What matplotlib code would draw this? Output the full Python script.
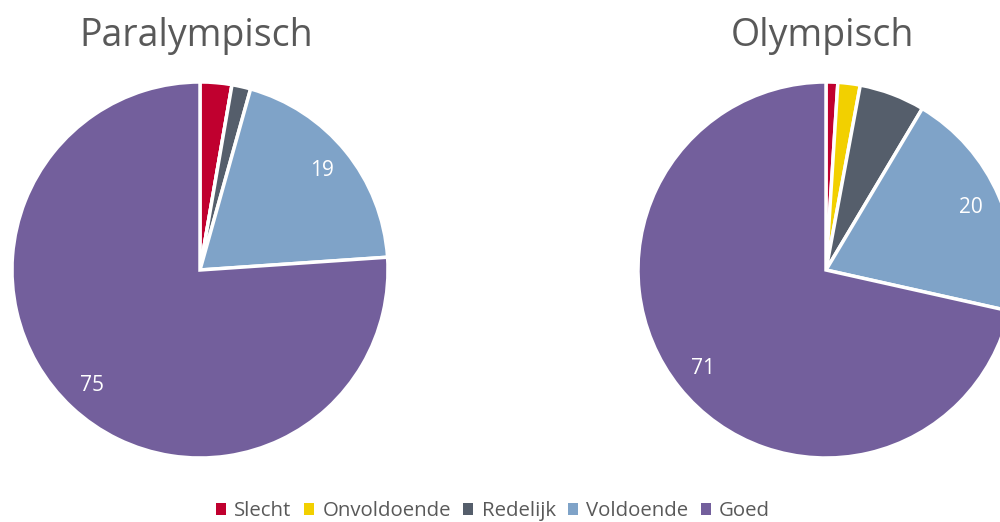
import matplotlib.pyplot as plt
from matplotlib.patches import Patch

plt.rcParams['font.family'] = ['Open Sans', 'DejaVu Sans']

categories = ['Slecht', 'Onvoldoende', 'Redelijk', 'Voldoende', 'Goed']
colors = ['#C0002F', '#F2D000', '#555E6B', '#7FA3C8', '#735F9C']

para_values = [2.7, 0.0, 1.6, 19.4, 75.4]
olymp_values = [1.0, 1.9, 5.6, 19.8, 71.0]

titles = ['Paralympisch', 'Olympisch']

W, H = 1000, 522
fig = plt.figure(figsize=(W / 100, H / 100), dpi=100)


def draw_pie(ax, values):
    total = sum(values)

    def fmt(pct):
        v = pct * total / 100.0
        return '%d' % round(v) if v >= 10 else ''

    wedges, texts, autotexts = ax.pie(
        values, colors=colors, startangle=90, counterclock=False,
        autopct=fmt, pctdistance=0.84,
        wedgeprops=dict(edgecolor='white', linewidth=2.5),
        textprops=dict(color='white', fontsize=15))
    ax.set_aspect('equal')
    ax.set_xlim(-1.0, 1.0)
    ax.set_ylim(-1.0, 1.0)


# pie axes placed by pixel box (center x, center y, radius)
boxes = [(200, 270, 188), (826, 270, 188)]
for (cx, cy, r), vals, title in zip(boxes, [para_values, olymp_values], titles):
    ax = fig.add_axes([(cx - r) / W, (H - cy - r) / H, 2 * r / W, 2 * r / H])
    draw_pie(ax, vals)
    ax.axis('off')
    fig.text((cx - 4) / W, 1 - 36 / H, title, ha='center', va='center',
             fontsize=27, color='#595959')

handles = [Patch(facecolor=c, edgecolor='none') for c in colors]
fig.legend(handles, categories, loc='center', bbox_to_anchor=(0.493, 1 - 511 / H),
           ncol=5, frameon=False, fontsize=14.7, handlelength=0.5,
           handleheight=0.5, handletextpad=0.4, columnspacing=0.6,
           labelcolor='#595959')

fig.savefig('out.png', dpi=100)
